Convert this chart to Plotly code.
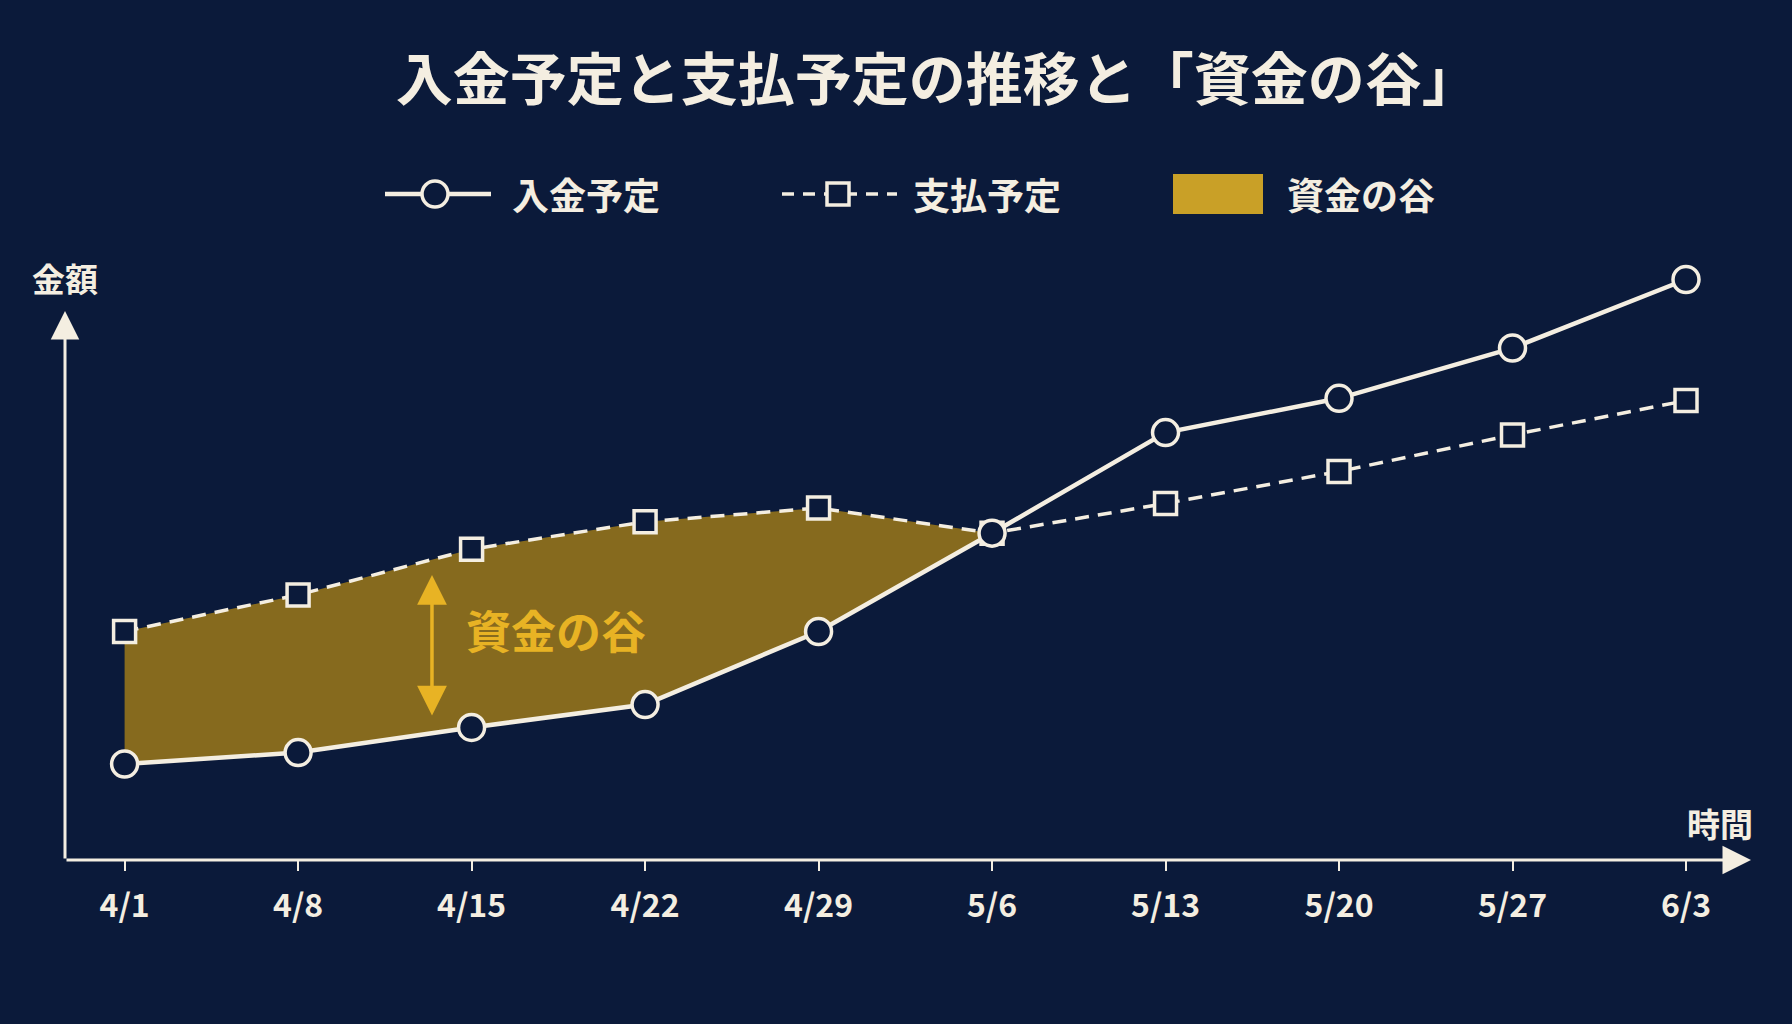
import plotly.graph_objects as go

# 週ごとの日付と金額（単位なし、図から読み取り）
dates = ["4/1", "4/8", "4/15", "4/22", "4/29", "5/6", "5/13", "5/20", "5/27", "6/3"]
income = [21, 23.5, 29, 34, 50, 71.5, 93.5, 101, 112, 127]
payment = [50, 58, 68, 74, 77, 71.5, 78, 85, 93, 100.5]
valley_end = 5  # 入金が支払に追いつく位置 (5/6)

BG = "#0b1a3a"
CREAM = "#f4eee1"
GOLD = "#e8b324"
FILL = "#866a1e"
SWATCH = "#c9a027"
FONT = "Noto Sans CJK JP"

# 描画領域（ピクセル）
W, H = 1792, 1024
L, R, T, B = 65, 1760, 230, 860


def px(x):
    return (x - L) / (R - L)


def py(y):
    return (B - y) / (B - T)


def main():
    xs = list(range(len(dates)))

    fig = go.Figure()

    # 資金の谷（支払予定と入金予定の間）
    poly_x = xs[:valley_end + 1] + xs[:valley_end + 1][::-1]
    poly_y = payment[:valley_end + 1] + income[:valley_end + 1][::-1]
    fig.add_trace(go.Scatter(
        x=poly_x, y=poly_y, fill="toself", fillcolor=FILL,
        mode="none", hoverinfo="skip", name="資金の谷",
    ))

    fig.add_trace(go.Scatter(
        x=xs, y=payment, mode="lines+markers", name="支払予定",
        line=dict(color=CREAM, width=3.5, dash="14px,9px"),
        marker=dict(symbol="square", size=22, color=BG,
                    line=dict(color=CREAM, width=3.5)),
        cliponaxis=False,
    ))
    fig.add_trace(go.Scatter(
        x=xs, y=income, mode="lines+markers", name="入金予定",
        line=dict(color=CREAM, width=4.5),
        marker=dict(symbol="circle", size=26, color=BG,
                    line=dict(color=CREAM, width=3.5)),
        cliponaxis=False,
    ))

    ppu = 173.5  # x方向 1目盛あたりのピクセル
    x0 = 124.6
    yscale = 4.571

    def label(x, y, text, size, color=CREAM, anchor="center"):
        return dict(x=x, y=y, xref="paper", yref="paper", text=text,
                    xanchor=anchor, yanchor="middle", showarrow=False,
                    font=dict(family=FONT, size=size, color=color, weight=700))

    annotations = [
        # 軸の矢印
        dict(x=px(1751), y=0, xref="paper", yref="paper", ax=-(1751 - L), ay=0,
             text="", showarrow=True, arrowhead=2, arrowsize=1.9, arrowwidth=3,
             arrowcolor=CREAM, standoff=0),
        dict(x=0, y=py(311), xref="paper", yref="paper", ax=0, ay=B - 311,
             text="", showarrow=True, arrowhead=2, arrowsize=1.9, arrowwidth=3,
             arrowcolor=CREAM, standoff=0),
        label(0, py(278), "金額", 33),
        label(px(1720), py(823), "時間", 33),
        # 谷の幅を示す矢印とラベル
        dict(x=(432 - x0) / ppu, y=(B - 575) / yscale, xref="x", yref="y",
             ax=(432 - x0) / ppu, ay=(B - 717) / yscale, axref="x", ayref="y",
             text="", showarrow=True, arrowhead=2, arrowside="end+start",
             arrowsize=1.7, arrowwidth=3.5, arrowcolor=GOLD, standoff=0, startstandoff=0),
        dict(x=(556 - x0) / ppu, y=(B - 629) / yscale, xref="x", yref="y",
             text="資金の谷", showarrow=False, yanchor="middle",
             font=dict(family=FONT, size=45, color=GOLD, weight=700)),
        # 凡例テキスト
        label(px(510), py(194), "入金予定", 37, anchor="left"),
        label(px(911), py(194), "支払予定", 37, anchor="left"),
        label(px(1285), py(194), "資金の谷", 37, anchor="left"),
    ]

    ly = py(194)
    shapes = [
        # 凡例: 入金予定
        dict(type="line", xref="paper", yref="paper", x0=px(385), x1=px(491),
             y0=ly, y1=ly, line=dict(color=CREAM, width=4.5)),
        dict(type="circle", xref="paper", yref="paper", xsizemode="pixel",
             ysizemode="pixel", xanchor=px(435), yanchor=ly,
             x0=-13, x1=13, y0=-13, y1=13, fillcolor=BG,
             line=dict(color=CREAM, width=3.5)),
        # 凡例: 支払予定
        dict(type="line", xref="paper", yref="paper", x0=px(782), x1=px(897),
             y0=ly, y1=ly, line=dict(color=CREAM, width=3.5, dash="12px,9px")),
        dict(type="rect", xref="paper", yref="paper", xsizemode="pixel",
             ysizemode="pixel", xanchor=px(838), yanchor=ly,
             x0=-11, x1=11, y0=-11, y1=11, fillcolor=BG,
             line=dict(color=CREAM, width=3.5)),
        # 凡例: 資金の谷
        dict(type="rect", xref="paper", yref="paper", x0=px(1173), x1=px(1263),
             y0=py(214), y1=py(174), fillcolor=SWATCH, line=dict(width=0)),
    ]

    fig.update_layout(
        width=W, height=H,
        paper_bgcolor=BG, plot_bgcolor=BG,
        margin=dict(l=L, r=W - R, t=T, b=H - B, autoexpand=False),
        showlegend=False,
        title=dict(text="入金予定と支払予定の推移と「資金の谷」",
                   x=0.523, xref="container", xanchor="center",
                   y=1 - 80 / H, yref="container", yanchor="middle",
                   font=dict(family=FONT, size=57, color=CREAM, weight=700)),
        xaxis=dict(
            range=[-(x0 - L) / ppu, 9 + (R - 1686) / ppu],
            tickmode="array", tickvals=xs, ticktext=dates,
            ticks="outside", ticklen=10, tickwidth=1.5, tickcolor=CREAM,
            ticklabelstandoff=8,
            tickfont=dict(family=FONT, size=32, color=CREAM, weight=600),
            showgrid=False, zeroline=False, showline=False, fixedrange=True,
        ),
        yaxis=dict(
            range=[0, (B - T) / yscale],
            showticklabels=False, showgrid=False, zeroline=False,
            showline=False, fixedrange=True,
        ),
        annotations=annotations,
        shapes=shapes,
    )

    fig.write_html(
        "out.html",
        config={"displayModeBar": False},
        post_script="document.body.style.margin='0';"
                    "document.body.style.background='" + BG + "';",
    )


if __name__ == '__main__':
    main()
